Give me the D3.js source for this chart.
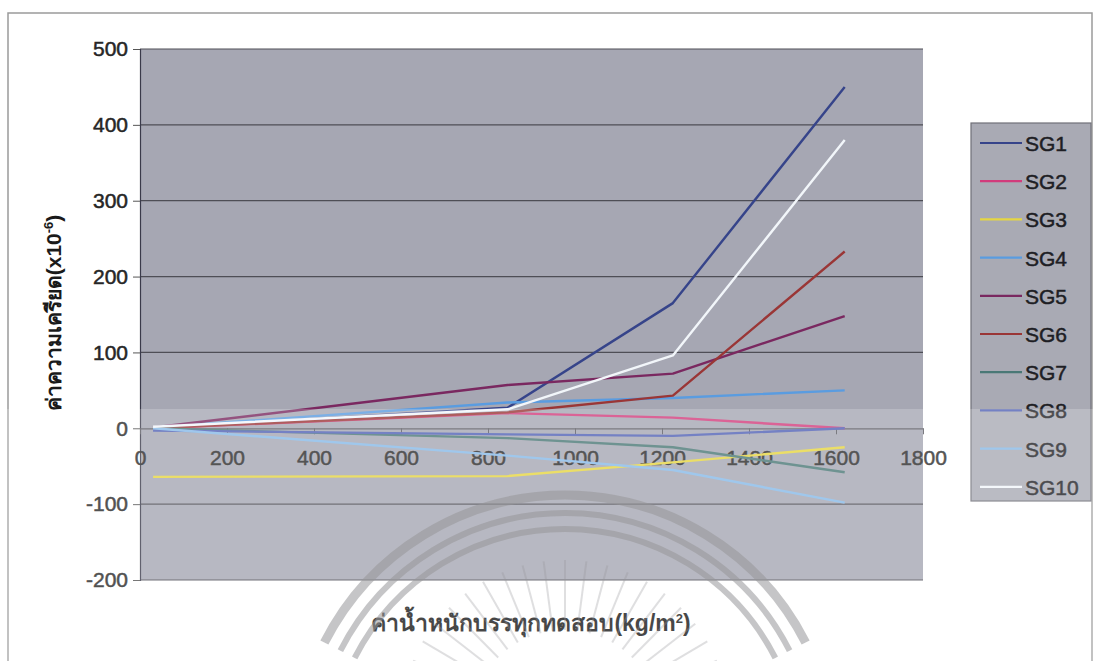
<!DOCTYPE html>
<html>
<head>
    <meta charset="utf-8">
    <title>SG strain chart</title>
    <style>
        body { margin:0; background:#ffffff; }
        svg text { font-family: "Liberation Sans", Arial, "Noto Sans", sans-serif; }
    </style>
</head>
<body>
<script src="https://d3js.org/d3.v7.min.js"></script>
<script type="text/javascript">

    //load values (kg/m2)
    var loads = [30, 845, 1225, 1620];

    var seriesNames = ["SG1","SG2","SG3","SG4","SG5","SG6","SG7","SG8","SG9","SG10"];

    //strain values (x10^-6) for each gauge, one per load step
    var sg1  = [0, 27, 165, 450];
    var sg2  = [0, 20, 14, 0];
    var sg3  = [-64, -63, -45, -25];
    var sg4  = [1, 34, 40, 50];
    var sg5  = [1, 57, 72, 148];
    var sg6  = [0, 21, 43, 233];
    var sg7  = [0, -13, -25, -58];
    var sg8  = [-3, -8, -10, 0];
    var sg9  = [0, -36, -55, -98];
    var sg10 = [2, 25, 96, 380];

    var seriesValues = [sg1, sg2, sg3, sg4, sg5, sg6, sg7, sg8, sg9, sg10];

    var seriesColors = ["#36448a","#d23c7c","#e6d642","#5a9ce0","#7a2860",
                        "#9a3636","#4a7876","#5262b6","#88bae8","#f2f6fa"];

    var xTicks = [0, 200, 400, 600, 800, 1000, 1200, 1400, 1600, 1800];
    var yTicks = [-200, -100, 0, 100, 200, 300, 400, 500];

    var width = 1099, height = 661;
    var plotLeft = 140, plotRight = 923, plotTop = 49, plotBottom = 580;

    var svg = d3.select("body")
            .append("svg")
            .attr("width", width)
            .attr("height", height);

    //outer frame of the chart
    svg.append("rect")
            .attr("x", 8).attr("y", 13)
            .attr("width", 1084).attr("height", 660)
            .attr("fill", "#ffffff")
            .attr("stroke", "#9a9a9a")
            .attr("stroke-width", 1.5);

    var x = d3.scaleLinear().domain([0, 1800]).range([plotLeft, plotRight]);
    var y = d3.scaleLinear().domain([-200, 500]).range([plotBottom, plotTop]);
    //plain hyphen minus like the original
    var fmt = function(d){ return String(d); };

    //plot area
    svg.append("rect")
            .attr("x", plotLeft).attr("y", plotTop)
            .attr("width", plotRight - plotLeft)
            .attr("height", plotBottom - plotTop)
            .attr("fill", "#a6a7b3");

    //gridlines
    svg.append("g")
            .selectAll("line")
            .data(yTicks.filter(function(d){ return d != 0; }))
            .enter()
               .append("line")
               .attr("x1", plotLeft).attr("x2", plotRight)
               .attr("y1", function(d){ return y(d); })
               .attr("y2", function(d){ return y(d); })
               .attr("stroke", "#4e4e56")
               .attr("stroke-width", 1.2);

    //y axis
    var yAxis = svg.append("g")
            .attr("transform", "translate(" + plotLeft + ",0)")
            .call(d3.axisLeft(y).tickValues(yTicks).tickFormat(fmt).tickSize(7).tickPadding(5));
    yAxis.select(".domain").attr("stroke", "#3a3a4a").attr("stroke-width", 1.2);
    yAxis.selectAll(".tick line").attr("stroke", "#555");
    yAxis.selectAll("text")
            .attr("font-size", "21px")
            .attr("fill", "#262626")
            .attr("stroke", "#262626")
            .attr("stroke-width", 0.5);

    //x axis sits on zero
    var xAxis = svg.append("g")
            .attr("transform", "translate(0," + y(0) + ")")
            .call(d3.axisBottom(x).tickValues(xTicks).tickFormat(fmt).tickSize(6).tickPadding(16).tickSizeOuter(0));
    xAxis.select(".domain").attr("stroke", "#5a5a62").attr("stroke-width", 1.2);
    xAxis.selectAll(".tick line").attr("stroke", "#5a5a62");
    xAxis.selectAll("text")
            .attr("font-size", "21px")
            .attr("fill", "#2a2a2a")
            .attr("stroke", "#2a2a2a")
            .attr("stroke-width", 0.5);

    //series lines
    var line = d3.line()
            .x(function(d){ return x(d[0]); })
            .y(function(d){ return y(d[1]); });

    svg.append("g")
            .selectAll("path")
            .data(seriesValues)
            .enter()
               .append("path")
               .attr("d", function(d){
                   return line(d.map(function(v, i){ return [loads[i], v]; }));
               })
               .attr("fill", "none")
               .attr("stroke", function(d, i){ return seriesColors[i]; })
               .attr("stroke-width", 2.4)
               .attr("stroke-linejoin", "round");

    //legend
    var legend = svg.append("g");
    legend.append("rect")
            .attr("x", 971).attr("y", 123)
            .attr("width", 120).attr("height", 378)
            .attr("fill", "#a9aab4")
            .attr("stroke", "#707078")
            .attr("stroke-width", 1.2);

    var legendRow = legend.selectAll("g.legendRow")
            .data(seriesNames)
            .enter()
               .append("g")
               .attr("class", "legendRow")
               .attr("transform", function(d, i){
                   return "translate(980," + (143 + i * 38.2) + ")";
               });
    legendRow.append("line")
            .attr("x1", 0).attr("x2", 42)
            .attr("stroke", function(d, i){ return seriesColors[i]; })
            .attr("stroke-width", 2.2);
    legendRow.append("text")
            .attr("x", 45).attr("y", 8)
            .attr("font-size", "21px")
            .attr("fill", "#1e1e24")
            .attr("stroke", "#1e1e24")
            .attr("stroke-width", 0.5)
            .text(function(d){ return d; });

    //axis titles
    svg.append("text")
            .attr("transform", "translate(61,313) rotate(-90)")
            .attr("text-anchor", "middle")
            .attr("font-size", "21px")
            .attr("font-weight", "bold")
            .attr("fill", "#1a1a1a")
            .html("ค่าความเครียด(x10<tspan dy='-8' font-size='13px'>-6</tspan><tspan dy='8'>)</tspan>");

    svg.append("text")
            .attr("x", 531).attr("y", 631)
            .attr("text-anchor", "middle")
            .attr("font-size", "23px")
            .attr("font-weight", "bold")
            .attr("fill", "#1a1a1a")
            .html("ค่าน้ำหนักบรรทุกทดสอบ(kg/m<tspan dy='-8' font-size='13px'>2</tspan><tspan dy='8'>)</tspan>");

    //faint watermark of the scanned page
    var mark = svg.append("g")
            .attr("fill", "none")
            .attr("stroke", "#7c7c80");
    [270, 252, 236].forEach(function(r, i){
        mark.append("path")
            .attr("d", d3.arc()({innerRadius: r, outerRadius: r, startAngle: -1.1, endAngle: 1.1}))
            .attr("transform", "translate(565,765)")
            .attr("stroke-opacity", 0.55)
            .attr("stroke-width", i == 0 ? 9 : 6);
    });
    d3.range(-9, 10).forEach(function(k){
        var a = k * 0.13;
        mark.append("line")
            .attr("x1", 565 + Math.sin(a) * 95).attr("y1", 725 - Math.cos(a) * 95)
            .attr("x2", 565 + Math.sin(a) * 165).attr("y2", 725 - Math.cos(a) * 165)
            .attr("stroke-opacity", 0.3)
            .attr("stroke-width", 2);
    });

    //lighter band across the lower part of the scan
    svg.append("rect")
            .attr("x", 0).attr("y", 409)
            .attr("width", width).attr("height", height - 409)
            .attr("fill", "#ffffff")
            .attr("fill-opacity", 0.2);

</script>
</body>
</html>
